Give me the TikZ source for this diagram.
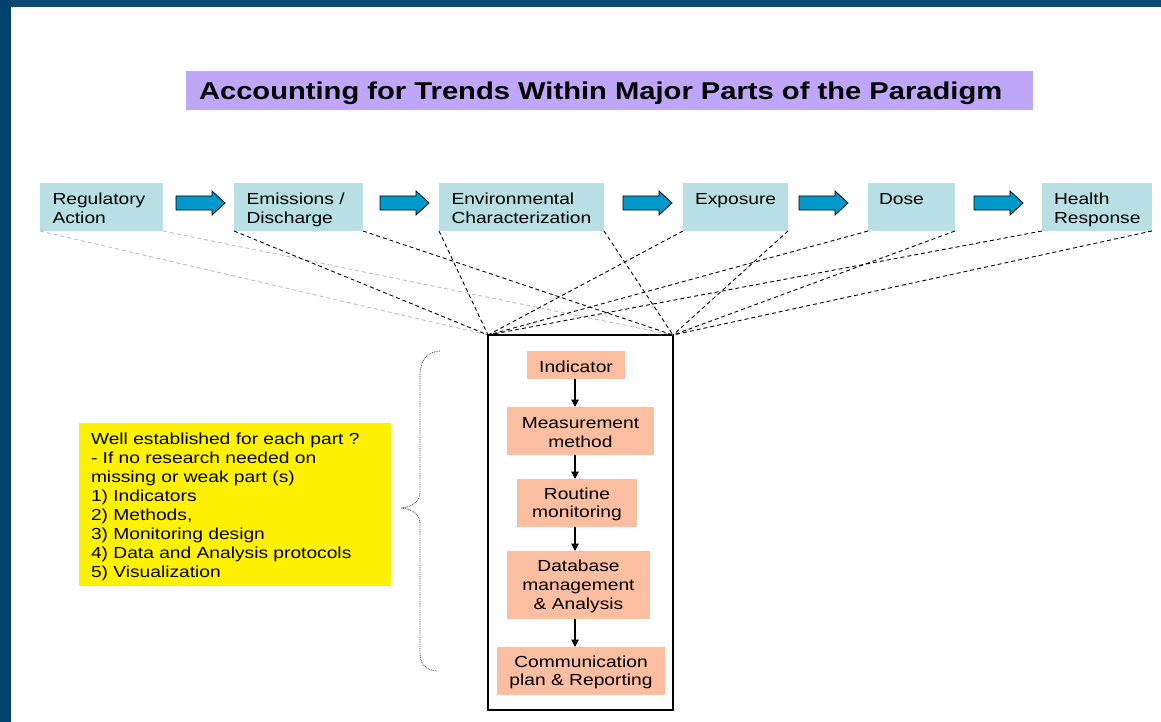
\documentclass[tikz,border=0pt]{standalone}
\usepackage{fontspec}
\setmainfont{Liberation Sans}[FakeStretch=1.2]
\usetikzlibrary{arrows.meta,calc}
\definecolor{slideblue}{RGB}{0,67,110}
\definecolor{slidetop}{RGB}{12,74,114}
\definecolor{titlebg}{RGB}{191,166,248}
\definecolor{cyanbox}{RGB}{184,224,228}
\definecolor{salmon}{RGB}{251,190,160}
\definecolor{arrowblue}{RGB}{0,153,204}
\definecolor{lightdash}{RGB}{190,190,190}
\newcommand\fstrut{\rule{0pt}{12pt}}
\newcommand\toppad[1]{\raisebox{0pt}[\dimexpr\height+3pt\relax]{#1}}
\newcommand\blockarrow[1]{\draw[blockarr] (#1,196) -- ++(36,0) -- ++(0,-5) -- ++(13,12) -- ++(-13,12) -- ++(0,-5) -- ++(-36,0) -- cycle;}
\begin{document}
\begin{tikzpicture}[x=1pt,y=-1pt,
  every node/.style={inner sep=0pt, outer sep=0pt},
  topbox/.style={fill=cyanbox, anchor=north west, minimum height=48pt},
  boxtext/.style={anchor=north west, align=left, font=\fontsize{16}{19}\selectfont},
  stagebox/.style={fill=salmon, align=center, font=\fontsize{16}{18.7}\selectfont},
  blockarr/.style={fill=arrowblue, draw=black, line width=0.8pt, line join=miter},
  blkdash/.style={draw=black, line width=0.9pt, dash pattern=on 4pt off 3pt},
  graydash/.style={draw=lightdash, line width=0.9pt, dash pattern=on 4pt off 3pt},
  flowarr/.style={draw=black, line width=1.1pt, -{Triangle[length=7.5pt,width=7.5pt]}},
  bracestyle/.style={draw=black!70, line width=0.8pt, dash pattern=on 0.9pt off 0.9pt}
]
\useasboundingbox (0,0) rectangle (1161,722);
\fill[white] (0,0) rectangle (1161,722);
\fill[slidetop] (0,0) rectangle (1161,7);
\fill[slideblue] (0,0) rectangle (11,722);

% title
\node[fill=titlebg, anchor=north west, minimum width=847pt, minimum height=39pt] (title) at (186,71) {};
\node[anchor=base west, font=\bfseries\fontsize{24.3}{29}\selectfont] (titletext) at (199,100) {Accounting for Trends Within Major Parts of the Paradigm};

% top chain
\node[topbox, minimum width=123pt] (reg) at (40,183) {};
\node[topbox, minimum width=129pt] (emi) at (234,183) {};
\node[topbox, minimum width=165pt] (env) at (439,183) {};
\node[topbox, minimum width=105pt] (exp) at (683,183) {};
\node[topbox, minimum width=87pt] (dose) at (868,183) {};
\node[topbox, minimum width=110pt] (hea) at (1042,183) {};

\node[boxtext] (regt) at ($(reg.north west)+(12.5,9.5)$) {\fstrut Regulatory\\Action};
\node[boxtext] (emit) at ($(emi.north west)+(12.5,9.5)$) {\fstrut Emissions /\\Discharge};
\node[boxtext] (envt) at ($(env.north west)+(12.5,9.5)$) {\fstrut Environmental\\Characterization};
\node[boxtext] (expt) at ($(exp.north west)+(12,9.5)$) {\fstrut Exposure};
\node[boxtext] (doset) at ($(dose.north west)+(11,9.5)$) {\fstrut Dose};
\node[boxtext] (heat) at ($(hea.north west)+(12,9.5)$) {\fstrut Health\\Response};

\blockarrow{176}
\blockarrow{380}
\blockarrow{623}
\blockarrow{799}
\blockarrow{974}

% central frame
\node[draw=black, line width=1.1pt, fill=white, anchor=north west, minimum width=185pt, minimum height=375pt] (core) at (488,335) {};

% dashed fan
\draw[graydash] (reg.south west) -- (core.north west);
\draw[graydash] (reg.south east) -- (core.north east);
\foreach \n in {emi,env,exp,dose,hea}{
  \draw[blkdash] (\n.south west) -- (core.north west);
  \draw[blkdash] (\n.south east) -- (core.north east);
}

% stages
\node[stagebox, minimum width=98pt, minimum height=28pt] (ind) at (576,365) {\toppad{Indicator}};
\node[stagebox, minimum width=147pt, minimum height=48pt] (meas) at (580.5,431) {\toppad{Measurement}\\method};
\node[stagebox, minimum width=120pt, minimum height=48pt] (rout) at (577,503) {\toppad{Routine}\\monitoring};
\node[stagebox, minimum width=143pt, minimum height=68pt] (db) at (578.5,585) {\toppad{Database}\\management\\\& Analysis};
\node[stagebox, minimum width=168pt, minimum height=48pt] (comm) at (581,671) {\toppad{Communication}\\plan \& Reporting};

\coordinate (ax) at (575,0);
\draw[flowarr] (ind.south -| ax) -- (meas.north -| ax);
\draw[flowarr] (meas.south -| ax) -- (rout.north -| ax);
\draw[flowarr] (rout.south -| ax) -- (db.north -| ax);
\draw[flowarr] (db.south -| ax) -- (comm.north -| ax);

% brace
\draw[bracestyle] (440,351) .. controls (426,352) and (420,360) .. (420,378) -- (420,492) .. controls (420,502) and (412,507) .. (401,508) .. controls (412,509) and (420,514) .. (420,524) -- (420,652) .. controls (420,664) and (425,670) .. (437,671);

% note
\node[fill=yellow, anchor=north west, minimum width=312pt, minimum height=163pt] (note) at (79,423) {};
\node[boxtext] (notet) at ($(note.north west)+(12,9)$) {\fstrut Well established for each part ?\\- If no research needed on\\missing or weak part (s)\\1) Indicators\\2) Methods,\\3) Monitoring design\\4) Data and Analysis protocols\\5) Visualization};
\end{tikzpicture}
\end{document}
